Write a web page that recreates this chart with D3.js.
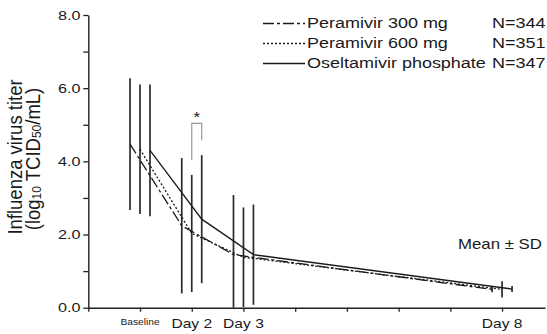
<!DOCTYPE html>
<html>
<head>
<meta charset="utf-8">
<script src="https://cdn.jsdelivr.net/npm/d3@7"></script>
<style>
  body { margin: 0; background: #fff; }
  svg text { font-family: "Liberation Sans", Arial, sans-serif; fill: #1a1a1a; }
</style>
</head>
<body>
<svg id="chart" width="547" height="334"></svg>
<script>
// 数据
const days = [1, 2, 3, 8];
const labelDays = [1, 2, 3, 8];
const labelTexts = ["Baseline", "Day 2", "Day 3", "Day 8"];
const yLabelValues = [0, 2, 4, 6, 8];

const mean300 = [4.47, 2.24, 1.45, 0.50];
const sd300 = [1.80, 1.85, 1.63, 0.08];
const mean600 = [4.33, 2.03, 1.38, 0.50];
const sd600 = [1.77, 1.60, 1.36, 0.22];
const meanOsel = [4.30, 2.42, 1.45, 0.51];
const sdOsel = [1.80, 1.75, 1.37, 0.08];

const seriesNames = ["Peramivir 300 mg", "Peramivir 600 mg", "Oseltamivir phosphate"];
const seriesN = ["N=344", "N=351", "N=347"];

// 显著性括号（day 2，600 mg vs oseltamivir）
const sigDay = 2;
const sigTop = 5.04, sigLeftBottom = 4.03, sigRightBottom = 4.58;

const series = [
  { name: seriesNames[0], n: seriesN[0], mean: mean300, sd: sd300, off: -0.193, dash: "11,3,3,3" },
  { name: seriesNames[1], n: seriesN[1], mean: mean600, sd: sd600, off: 0, dash: "2,2" },
  { name: seriesNames[2], n: seriesN[2], mean: meanOsel, sd: sdOsel, off: 0.193, dash: null },
];

const svg = d3.select("#chart");
const sx = 1.2; // 原图文字横向拉伸

const x = d3.scaleLinear().domain([0, 8.83]).range([88.3, 545]);
const y = d3.scaleLinear().domain([0, 8]).range([307.7, 15]);

function label(g, px, py, txt, size, anchor) {
  return g.append("text")
    .attr("transform", `translate(${px},${py}) scale(${sx},1)`)
    .attr("text-anchor", anchor)
    .attr("dominant-baseline", "central")
    .attr("font-size", size)
    .text(txt);
}

// 坐标轴
const xAxis = d3.axisBottom(x).tickValues(d3.range(0, 9)).tickFormat("").tickSize(4).tickSizeOuter(0);
const yAxis = d3.axisLeft(y).tickValues(d3.range(0, 9)).tickFormat("").tickSize(5).tickSizeOuter(0);

const gx = svg.append("g").attr("transform", `translate(0,${y(0)})`).call(xAxis);
const gy = svg.append("g").attr("transform", `translate(${x(0)},0)`).call(yAxis);
[gx, gy].forEach(g => {
  g.select(".domain").attr("stroke", "#222").attr("stroke-width", 1.4);
  g.selectAll(".tick line").attr("stroke", "#222").attr("stroke-width", 1.3);
});

const labels = svg.append("g");
yLabelValues.forEach(v => label(labels, 80.5, y(v), d3.format(".1f")(v), 13.5, "end"));
labelDays.forEach((d, i) => {
  const base = labelTexts[i] === "Baseline";
  label(labels, x(d), base ? 322 : 323, labelTexts[i], base ? 8.5 : 13, "middle");
});

// Y 轴标题
const yt = svg.append("g");
yt.append("text")
  .attr("transform", "translate(15,157) scale(1.05,1) rotate(-90)")
  .attr("text-anchor", "middle").attr("dominant-baseline", "central")
  .attr("font-size", 18.5)
  .text("Influenza virus titer");
const yt2 = yt.append("text")
  .attr("transform", "translate(33,159) scale(1.05,1) rotate(-90)")
  .attr("text-anchor", "middle").attr("dominant-baseline", "central")
  .attr("font-size", 18.5);
yt2.append("tspan").text("(log");
yt2.append("tspan").attr("font-size", 12).attr("dy", 4).text("10");
yt2.append("tspan").attr("dy", -4).text(" TCID");
yt2.append("tspan").attr("font-size", 12).attr("dy", 4).text("50");
yt2.append("tspan").attr("dy", -4).text("/mL)");

// 误差棒
const bars = svg.append("g");
series.forEach(s => {
  days.forEach((d, i) => {
    const lo = Math.max(0, s.mean[i] - s.sd[i]);
    const hi = s.mean[i] + s.sd[i];
    bars.append("line")
      .attr("x1", x(d + s.off)).attr("x2", x(d + s.off))
      .attr("y1", y(hi)).attr("y2", y(lo))
      .attr("stroke", "#2a2a2a").attr("stroke-width", 1.7);
  });
});

// 折线
const line = d3.line().x(d => x(d[0])).y(d => y(d[1]));
series.forEach(s => {
  svg.append("path")
    .datum(days.map((d, i) => [d + s.off, s.mean[i]]))
    .attr("d", line)
    .attr("fill", "none")
    .attr("stroke", "#1a1a1a")
    .attr("stroke-width", 1.3)
    .attr("stroke-dasharray", s.dash);
});

// 显著性标记
const sig = svg.append("g");
const sxl = x(sigDay + series[1].off), sxr = x(sigDay + series[2].off);
sig.append("path")
  .attr("d", `M${sxl},${y(sigLeftBottom)}V${y(sigTop)}H${sxr}V${y(sigRightBottom)}`)
  .attr("fill", "none").attr("stroke", "#999").attr("stroke-width", 1.2);
label(sig, (sxl + sxr) / 2, y(sigTop) - 6, "*", 15, "middle");

// 图例
const legend = svg.append("g");
series.forEach((s, i) => {
  const ly = 23.5 + i * 20;
  legend.append("line")
    .attr("x1", 263).attr("x2", 305).attr("y1", ly).attr("y2", ly)
    .attr("stroke", "#1a1a1a").attr("stroke-width", 1.3)
    .attr("stroke-dasharray", s.dash);
  label(legend, 307, ly, s.name, 15, "start");
  label(legend, 492, ly, s.n, 15, "start");
});

label(svg, 458, 244, "Mean \u00b1 SD", 14, "start");
</script>
</body>
</html>
